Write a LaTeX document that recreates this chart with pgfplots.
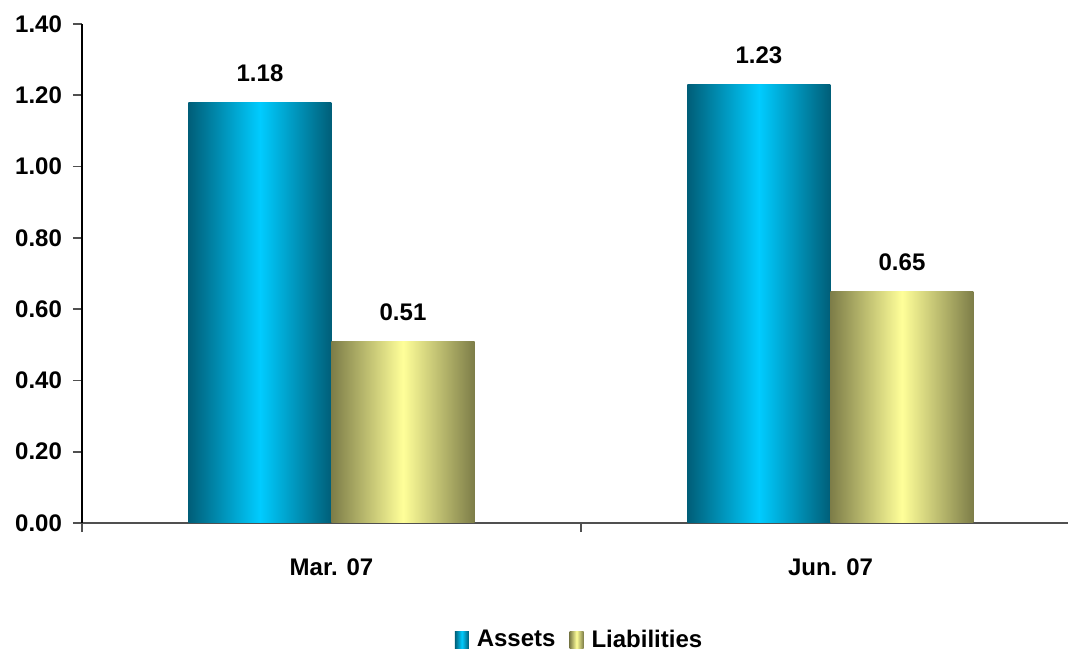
\documentclass[border=0pt]{standalone}
\usepackage{pgfplots}
\pgfplotsset{compat=1.18}
\usepackage{fontspec}
\setmainfont{Liberation Sans}
\definecolor{tealdark}{HTML}{005E78}
\definecolor{cyanmid}{HTML}{00CCFF}
\definecolor{olivedark}{HTML}{7D7D48}
\definecolor{yellowmid}{HTML}{FFFF99}
\definecolor{axisgray}{HTML}{505050}
\begin{document}
\begin{tikzpicture}
\useasboundingbox (-41pt,-64pt) rectangle (493pt,261.5pt);
\begin{axis}[
  at={(0pt,0pt)}, anchor=south west,
  scale only axis, width=493pt, height=249.5pt,
  xmin=-0.5, xmax=1.476, ymin=0, ymax=1.4,
  ybar=0pt, bar width=71.5pt,
  axis x line*=bottom, axis y line*=left,
  x axis line style={draw=axisgray, line width=1pt, -},
  y axis line style={draw=black, line width=0.6pt, -},
  ytick={0,0.2,0.4,0.6,0.8,1.0,1.2,1.4},
  xtick={-0.5,0.5}, xticklabels={},
  extra x ticks={0,1}, extra x tick labels={Mar. 07,Jun. 07},
  extra x tick style={major tick length=0pt, xticklabel style={yshift=-14.5pt}},
  tick align=outside, major tick length=4.5pt,
  tick style={draw=axisgray, line width=0.8pt},
  /pgf/number format/.cd, fixed, zerofill, precision=2, assume math mode=true,
  /pgfplots/.cd,
  ticklabel style={font=\fontsize{12}{14}\selectfont\bfseries},
  yticklabel style={xshift=-2pt},
  nodes near coords,
  every node near coord/.append style={font=\fontsize{12}{14}\selectfont\bfseries, inner sep=0pt, anchor=south, yshift=10pt},
  legend style={draw=none, fill=none, at={(0.5056,-0.2345)}, anchor=center,
    font=\fontsize{12}{14}\selectfont\bfseries, legend columns=-1,
    /tikz/every odd column/.append style={column sep=2pt},
    /tikz/every even column/.append style={column sep=5pt}},
  legend image code/.code={\path[#1, draw=none] (0pt,-4.25pt) rectangle (7pt,4.25pt);},
  assets/.style={bar shift=-35.75pt, draw=none, left color=tealdark, right color=tealdark, middle color=cyanmid},
  liab/.style={bar shift=35.75pt, draw=none, left color=olivedark, right color=olivedark, middle color=yellowmid},
]
\addplot[assets] coordinates {(0,1.18)};
\addplot[liab] coordinates {(0,0.51)};
\addplot[assets, forget plot] coordinates {(1,1.23)};
\addplot[liab, forget plot] coordinates {(1,0.65)};
\legend{Assets,Liabilities}
\end{axis}
\end{tikzpicture}
\end{document}
